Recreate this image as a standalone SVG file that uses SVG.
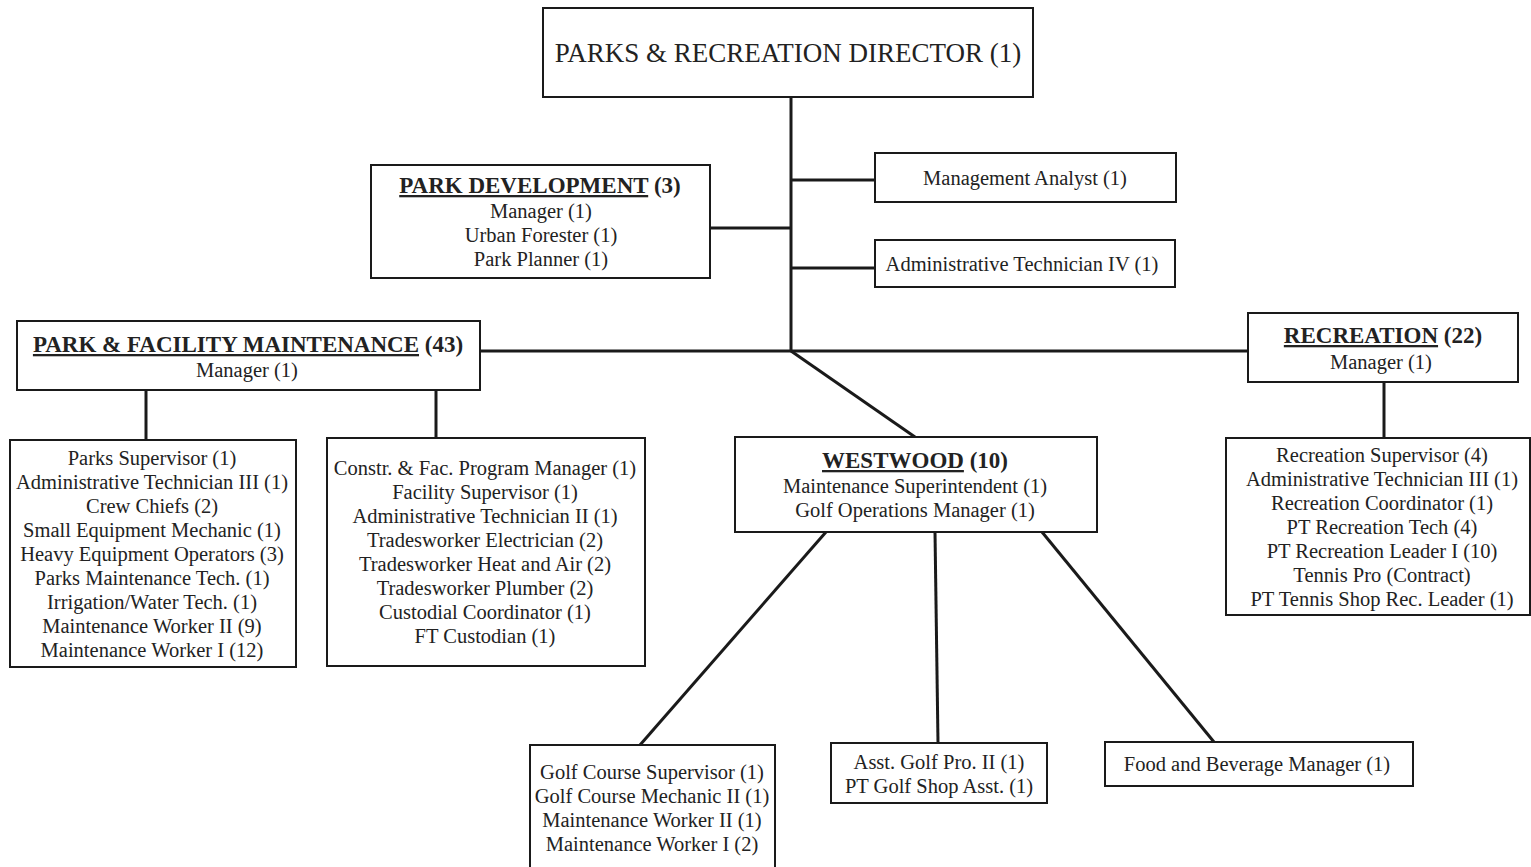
<svg xmlns="http://www.w3.org/2000/svg" width="1531" height="867" viewBox="0 0 1531 867">
<style>
.box{fill:#fff;stroke:#1a1a1a;stroke-width:2}
.c{stroke:#1a1a1a;stroke-width:3;fill:none}
text{font-family:"Liberation Serif","Times New Roman",serif;fill:#222;text-anchor:middle}
.t{font-size:20.5px}
.h{font-size:23px;font-weight:bold}
.u{text-decoration:underline}
.d{font-size:27px}
</style>
<rect width="1531" height="867" fill="#fff"/>
<g id="connectors">
<line class="c" x1="791" y1="97" x2="791" y2="351"/>
<line class="c" x1="791" y1="180" x2="875" y2="180"/>
<line class="c" x1="791" y1="268" x2="875" y2="268"/>
<line class="c" x1="710" y1="228" x2="791" y2="228"/>
<line class="c" x1="480" y1="351" x2="1248" y2="351"/>
<line class="c" x1="791" y1="351" x2="915" y2="437"/>
<line class="c" x1="146" y1="390" x2="146" y2="440"/>
<line class="c" x1="436" y1="390" x2="436" y2="438"/>
<line class="c" x1="1384" y1="382" x2="1384" y2="438"/>
<line class="c" x1="826" y1="532" x2="640" y2="745"/>
<line class="c" x1="935" y1="532" x2="938" y2="743"/>
<line class="c" x1="1042" y1="532" x2="1214" y2="742"/>
</g>
<g id="director">
<rect class="box" x="543" y="8" width="490" height="89"/>
<text class="d" x="788" y="62">PARKS &amp; RECREATION DIRECTOR (1)</text>
</g>
<g id="mgmt-analyst">
<rect class="box" x="875" y="153" width="301" height="49"/>
<text class="t" x="1025" y="185">Management Analyst (1)</text>
</g>
<g id="admin-tech-iv">
<rect class="box" x="875" y="240" width="300" height="47"/>
<text class="t" x="1022" y="271">Administrative Technician IV (1)</text>
</g>
<g id="park-development">
<rect class="box" x="371" y="165" width="339" height="113"/>
<text class="h" x="540" y="193"><tspan class="u">PARK DEVELOPMENT</tspan> (3)</text>
<text class="t" x="541" y="218">Manager (1)</text>
<text class="t" x="541" y="242">Urban Forester (1)</text>
<text class="t" x="541" y="266">Park Planner (1)</text>
</g>
<g id="park-facility-maintenance">
<rect class="box" x="17" y="321" width="463" height="69"/>
<text class="h" x="248" y="352"><tspan class="u">PARK &amp; FACILITY MAINTENANCE</tspan> (43)</text>
<text class="t" x="247" y="377">Manager (1)</text>
</g>
<g id="recreation">
<rect class="box" x="1248" y="313" width="270" height="69"/>
<text class="h" x="1383" y="343"><tspan class="u">RECREATION</tspan> (22)</text>
<text class="t" x="1381" y="369">Manager (1)</text>
</g>
<g id="parks-staff">
<rect class="box" x="10" y="440" width="286" height="227"/>
<text class="t" x="152" y="465">Parks Supervisor (1)</text>
<text class="t" x="152" y="489">Administrative Technician III (1)</text>
<text class="t" x="152" y="513">Crew Chiefs (2)</text>
<text class="t" x="152" y="537">Small Equipment Mechanic (1)</text>
<text class="t" x="152" y="561">Heavy Equipment Operators (3)</text>
<text class="t" x="152" y="585">Parks Maintenance Tech. (1)</text>
<text class="t" x="152" y="609">Irrigation/Water Tech. (1)</text>
<text class="t" x="152" y="633">Maintenance Worker II (9)</text>
<text class="t" x="152" y="657">Maintenance Worker I (12)</text>
</g>
<g id="facility-staff">
<rect class="box" x="327" y="438" width="318" height="228"/>
<text class="t" x="485" y="475">Constr. &amp; Fac. Program Manager (1)</text>
<text class="t" x="485" y="499">Facility Supervisor (1)</text>
<text class="t" x="485" y="523">Administrative Technician II (1)</text>
<text class="t" x="485" y="547">Tradesworker Electrician (2)</text>
<text class="t" x="485" y="571">Tradesworker Heat and Air (2)</text>
<text class="t" x="485" y="595">Tradesworker Plumber (2)</text>
<text class="t" x="485" y="619">Custodial Coordinator (1)</text>
<text class="t" x="485" y="643">FT Custodian (1)</text>
</g>
<g id="westwood">
<rect class="box" x="735" y="437" width="362" height="95"/>
<text class="h" x="915" y="468"><tspan class="u">WESTWOOD</tspan> (10)</text>
<text class="t" x="915" y="493">Maintenance Superintendent (1)</text>
<text class="t" x="915" y="517">Golf Operations Manager (1)</text>
</g>
<g id="recreation-staff">
<rect class="box" x="1226" y="438" width="304" height="177"/>
<text class="t" x="1382" y="462">Recreation Supervisor (4)</text>
<text class="t" x="1382" y="486">Administrative Technician III (1)</text>
<text class="t" x="1382" y="510">Recreation Coordinator  (1)</text>
<text class="t" x="1382" y="534">PT Recreation Tech (4)</text>
<text class="t" x="1382" y="558">PT Recreation Leader I (10)</text>
<text class="t" x="1382" y="582">Tennis Pro (Contract)</text>
<text class="t" x="1382" y="606">PT Tennis Shop Rec. Leader (1)</text>
</g>
<g id="golf-course">
<rect class="box" x="530" y="745" width="245" height="130"/>
<text class="t" x="652" y="779">Golf Course Supervisor (1)</text>
<text class="t" x="652" y="803">Golf Course Mechanic II (1)</text>
<text class="t" x="652" y="827">Maintenance Worker II (1)</text>
<text class="t" x="652" y="851">Maintenance Worker I (2)</text>
</g>
<g id="golf-pro">
<rect class="box" x="831" y="743" width="216" height="60"/>
<text class="t" x="939" y="769">Asst. Golf Pro. II (1)</text>
<text class="t" x="939" y="793">PT Golf Shop Asst. (1)</text>
</g>
<g id="food-beverage">
<rect class="box" x="1105" y="742" width="308" height="44"/>
<text class="t" x="1257" y="771">Food and Beverage Manager (1)</text>
</g>
</svg>
